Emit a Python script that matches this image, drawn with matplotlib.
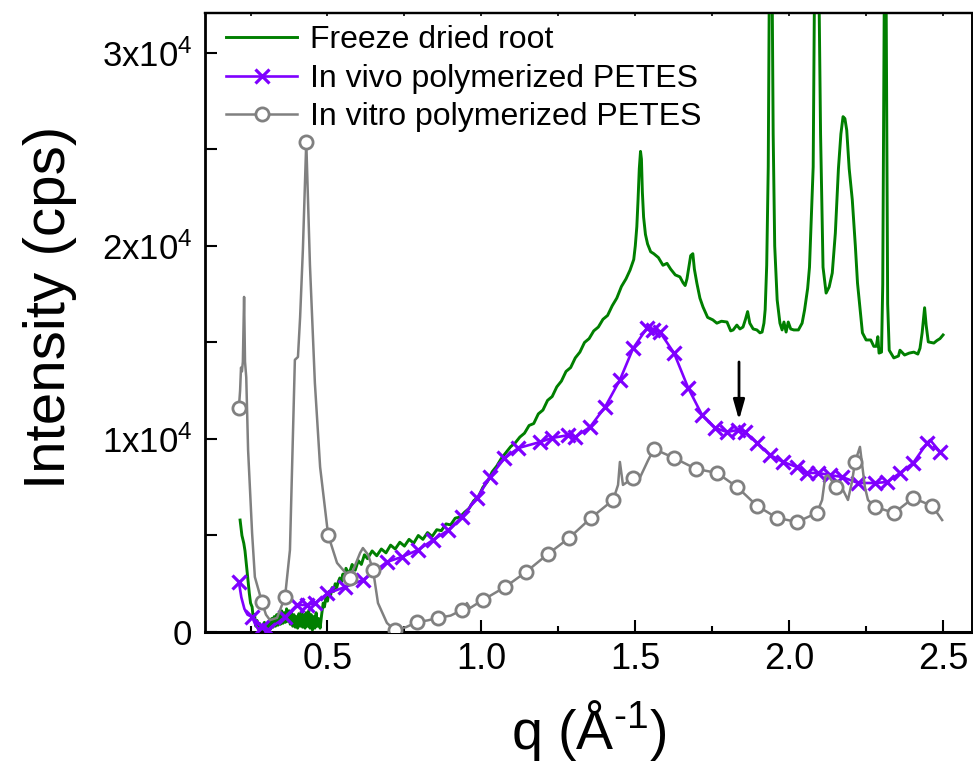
import numpy as np
import matplotlib
matplotlib.use("Agg")
import matplotlib.pyplot as plt
from matplotlib.ticker import FixedLocator, FixedFormatter, NullFormatter

plt.rcParams['font.family'] = ['Liberation Sans', 'DejaVu Sans']
plt.rcParams['mathtext.fontset'] = 'custom'
plt.rcParams['mathtext.rm'] = 'Liberation Sans'
plt.rcParams['mathtext.it'] = 'Liberation Sans:italic'
plt.rcParams['mathtext.bf'] = 'Liberation Sans:bold'

# ---------------- data ----------------
root_q = [0.216, 0.222, 0.228, 0.232, 0.237, 0.242, 0.246, 0.250, 0.255, 0.259, 0.263, 0.267,
          0.271, 0.275, 0.279, 0.283, 0.287, 0.291, 0.295, 0.299, 0.303, 0.307, 0.311, 0.315,
          0.319, 0.323, 0.327, 0.331, 0.335, 0.339, 0.343, 0.347, 0.351, 0.355, 0.359, 0.363,
          0.367, 0.371, 0.375, 0.379, 0.383, 0.387, 0.391, 0.395, 0.399, 0.403, 0.407, 0.411,
          0.415, 0.419, 0.423, 0.427, 0.431, 0.435, 0.439, 0.443, 0.447, 0.451, 0.455, 0.459,
          0.463, 0.467, 0.471, 0.476, 0.481, 0.486, 0.490, 0.495, 0.500, 0.505, 0.510, 0.515,
          0.520, 0.525, 0.530, 0.535, 0.540, 0.545, 0.550, 0.555, 0.560, 0.570, 0.580, 0.590,
          0.600, 0.610, 0.620, 0.630, 0.645, 0.660, 0.675, 0.690, 0.705, 0.720, 0.735, 0.750,
          0.765, 0.780, 0.795, 0.810, 0.825, 0.840, 0.855, 0.870, 0.885, 0.900, 0.915, 0.930,
          0.945, 0.960, 0.975, 0.990, 1.005, 1.020, 1.035, 1.050, 1.065, 1.080, 1.095, 1.110,
          1.125, 1.140, 1.155, 1.170, 1.185, 1.200, 1.215, 1.230, 1.245, 1.260, 1.275, 1.290,
          1.305, 1.320, 1.335, 1.350, 1.365, 1.380, 1.395, 1.410, 1.425, 1.440, 1.455, 1.470,
          1.483, 1.495, 1.500, 1.505, 1.509, 1.513, 1.517, 1.520, 1.523, 1.527, 1.533, 1.540,
          1.550, 1.560, 1.575, 1.590, 1.603, 1.615, 1.630, 1.645, 1.655, 1.662, 1.668, 1.675,
          1.680, 1.687, 1.692, 1.700, 1.710, 1.720, 1.735, 1.752, 1.765, 1.780, 1.798, 1.810,
          1.818, 1.830, 1.840, 1.850, 1.858, 1.865, 1.872, 1.883, 1.895, 1.905, 1.912, 1.918,
          1.922, 1.927, 1.932, 1.936, 1.940, 1.944, 1.948, 1.953, 1.961, 1.970, 1.977, 1.983,
          1.990, 1.997, 2.005, 2.015, 2.030, 2.042, 2.050, 2.060, 2.066, 2.073, 2.078, 2.083,
          2.090, 2.097, 2.102, 2.110, 2.120, 2.130, 2.140, 2.150, 2.160, 2.168, 2.175, 2.181,
          2.187, 2.195, 2.205, 2.215, 2.222, 2.232, 2.238, 2.250, 2.265, 2.275, 2.283, 2.288,
          2.292, 2.300, 2.304, 2.308, 2.312, 2.316, 2.320, 2.325, 2.340, 2.355, 2.360, 2.375,
          2.390, 2.405, 2.418, 2.425, 2.432, 2.440, 2.445, 2.452, 2.470, 2.480, 2.490, 2.500]
root_I = [5800, 5000, 4600, 4200, 3400, 2600, 2000, 1500, 1300, 700, 900, 300,
          600, 150, 450, 0, 350, 100, 500, 50, 400, 100, 600, 150,
          700, 250, 800, 300, 900, 350, 1000, 400, 1100, 450, 1000, 500,
          1200, 550, 1100, 400, 1000, 300, 900, 250, 800, 200, 950, 300,
          1000, 250, 900, 200, 1000, 300, 1100, 200, 900, 100, 800, 200,
          1000, 300, 700, 200, 900, 1500, 1300, 1800, 1600, 2100, 1900, 2300,
          2100, 2500, 2300, 2600, 2800, 2600, 3000, 2800, 3300, 3000, 3500, 3200,
          3700, 3500, 4000, 3800, 4200, 3950, 4300, 4100, 4500, 4300, 4650, 4450,
          4800, 4600, 5000, 4800, 5150, 4950, 5300, 5250, 5600, 5550, 5900, 5950,
          6200, 6400, 6800, 7000, 7500, 7800, 8300, 8600, 9000, 9300, 9600, 9800,
          10100, 10300, 10700, 10800, 11300, 11500, 12000, 12200, 12700, 13000, 13500, 13700,
          14200, 14500, 15000, 15200, 15600, 15800, 16200, 16400, 16900, 17300, 17900, 18300,
          18750, 19300, 20000, 21000, 22400, 24000, 24900, 24500, 22800, 21500, 20600, 20100,
          19700, 19600, 19400, 19000, 19100, 18800, 18500, 18400, 18100, 17950, 18300, 19000,
          19500, 19600, 18800, 18080, 17300, 16840, 16300, 16170, 16000, 16100, 16060, 15600,
          15650, 15900, 15700, 15800, 16200, 16600, 16000, 15700, 15650, 15500, 15540, 16000,
          16700, 19000, 24100, 35000, 45000, 35000, 25800, 20000, 17200, 16000, 15650, 16060,
          15540, 16060, 15700, 15650, 15650, 16000, 16680, 17800, 18900, 22000, 24100, 35000,
          42000, 33000, 25800, 18900, 17560, 17880, 18600, 20670, 24000, 25800, 26700, 26600,
          26000, 24000, 22400, 20000, 18080, 16500, 15500, 15130, 15130, 14800, 14800, 15300,
          14450, 14500, 18000, 30000, 42000, 30000, 17000, 14600, 14200, 14300, 14600, 14350,
          14450, 14500, 14400, 14700, 15500, 16800, 15900, 15030, 14970, 15100, 15200, 15390]

vivo_q = [0.212, 0.220, 0.230, 0.240, 0.255, 0.265, 0.275, 0.287, 0.300, 0.307, 0.320, 0.340,
          0.362, 0.401, 0.433, 0.460, 0.500, 0.557, 0.616, 0.693, 0.742, 0.794, 0.843, 0.893,
          0.937, 0.986, 1.028, 1.075, 1.120, 1.190, 1.229, 1.282, 1.304, 1.353, 1.402, 1.450,
          1.493, 1.538, 1.558, 1.580, 1.626, 1.672, 1.717, 1.760, 1.798, 1.834, 1.857, 1.896,
          1.938, 1.980, 2.025, 2.058, 2.094, 2.133, 2.172, 2.224, 2.279, 2.318, 2.360, 2.403,
          2.448, 2.458, 2.490]
vivo_I = [2600, 1800, 1200, 900, 780, 400, 150, 260, 0, 100, 300, 500,
          780, 1400, 1400, 1500, 2000, 2330, 2700, 3630, 3890, 4250, 4770, 5280,
          5960, 6940, 8030, 9000, 9530, 9840, 10050, 10200, 10100, 10620, 11660, 13060,
          14700, 15750, 15650, 15540, 14450, 12640, 11240, 10570, 10360, 10470, 10360, 9790,
          9170, 8810, 8550, 8240, 8240, 8130, 8030, 7720, 7720, 7770, 8240, 8760,
          9790, 9950, 9330]
vivo_mark_q = [0.212, 0.255, 0.287, 0.307, 0.362, 0.401, 0.433, 0.460, 0.500, 0.557, 0.616,
               0.693, 0.742, 0.794, 0.843, 0.893, 0.937, 0.986, 1.028, 1.075, 1.120, 1.190,
               1.229, 1.282, 1.304, 1.353, 1.402, 1.450, 1.493, 1.538, 1.558, 1.580, 1.626,
               1.672, 1.717, 1.760, 1.798, 1.834, 1.857, 1.896, 1.938, 1.980, 2.025, 2.058,
               2.094, 2.133, 2.172, 2.224, 2.279, 2.318, 2.360, 2.403, 2.448, 2.490]

vitro_q = [0.212, 0.216, 0.219, 0.222, 0.225, 0.229, 0.232, 0.236, 0.242, 0.255, 0.264, 0.287,
           0.300, 0.313, 0.336, 0.362, 0.378, 0.394, 0.404, 0.411, 0.420, 0.431, 0.443, 0.459,
           0.476, 0.502, 0.531, 0.573, 0.606, 0.615, 0.632, 0.648, 0.664, 0.693, 0.719, 0.755,
           0.791, 0.825, 0.859, 0.900, 0.937, 0.953, 0.963, 1.005, 1.077, 1.145, 1.216, 1.285,
           1.356, 1.428, 1.444, 1.450, 1.460, 1.493, 1.516, 1.542, 1.561, 1.626, 1.697, 1.766,
           1.831, 1.896, 1.961, 2.026, 2.090, 2.107, 2.117, 2.126, 2.152, 2.175, 2.191, 2.204,
           2.214, 2.230, 2.246, 2.256, 2.279, 2.341, 2.403, 2.465, 2.497]
vitro_I = [11600, 12500, 13700, 13500, 14000, 17360, 14000, 13200, 9430, 5130, 2850, 1550,
           900, 620, 730, 1810, 4250, 14100, 14250, 16300, 19800, 25400, 19000, 12900,
           8550, 5030, 3580, 2800, 4100, 4350, 4000, 3210, 1500, 470, 100, 250,
           520, 600, 730, 850, 1140, 1500, 1240, 1660, 2330, 3110, 4040, 4870,
           5910, 6840, 7620, 8810, 7620, 7980, 8030, 8910, 9480, 9020, 8450, 8240,
           7510, 6530, 5910, 5700, 6170, 6840, 8030, 8130, 7510, 7360, 6840, 7770,
           8810, 9590, 7510, 6840, 6480, 6170, 6940, 6530, 5800]
vitro_mark_q = [0.212, 0.287, 0.362, 0.431, 0.502, 0.573, 0.648, 0.719, 0.791, 0.859, 0.937,
                1.005, 1.077, 1.145, 1.216, 1.285, 1.356, 1.428, 1.493, 1.561, 1.626, 1.697,
                1.766, 1.831, 1.896, 1.961, 2.026, 2.090, 2.152, 2.214, 2.279, 2.341, 2.403,
                2.465]

labels = ["Freeze dried root", "In vivo polymerized PETES", "In vitro polymerized PETES"]
colors = ["#007f00", "#7f00ff", "#808080"]
arrow_q = 1.837
arrow_from, arrow_to = 13990, 10980

xticks_major = [0.5, 1.0, 1.5, 2.0, 2.5]
xtick_labels = ["0.5", "1.0", "1.5", "2.0", "2.5"]
yticks_major = [0, 10000, 20000, 30000]
ytick_labels = ["0", "1x10$^4$", "2x10$^4$", "3x10$^4$"]

# ---------------- figure ----------------
fig = plt.figure(figsize=(9.73, 7.65), dpi=100)
W, H = 973, 765
ax = fig.add_axes([205 / W, 1 - 632 / H, (972 - 205) / W, (632 - 13) / H])

ax.plot(root_q, root_I, color=colors[0], lw=2.1, label=labels[0], zorder=2)

vivo_idx = [vivo_q.index(q) for q in vivo_mark_q]
ax.plot(vivo_q, vivo_I, color=colors[1], lw=1.9, marker='x', ms=10.5, mew=2.3,
        markevery=vivo_idx, label=labels[1], zorder=3)

vitro_idx = [vitro_q.index(q) for q in vitro_mark_q]
ax.plot(vitro_q, vitro_I, color=colors[2], lw=1.8, marker='o', ms=9.5, mew=2.0,
        mfc='white', mec=colors[2], markevery=vitro_idx, label=labels[2], zorder=4)

ax.annotate('', xy=(arrow_q, arrow_to), xytext=(arrow_q, arrow_from),
            arrowprops=dict(arrowstyle='-|>,head_length=0.6,head_width=0.17',
                            color='black', lw=2.0, mutation_scale=20,
                            shrinkA=0, shrinkB=0), zorder=5)

ax.set_xlim(0.102, 2.594)
ax.set_ylim(0, 32070)

ax.xaxis.set_major_locator(FixedLocator(xticks_major))
ax.xaxis.set_major_formatter(FixedFormatter(xtick_labels))
ax.xaxis.set_minor_locator(FixedLocator([0.25, 0.75, 1.25, 1.75, 2.25]))
ax.yaxis.set_major_locator(FixedLocator(yticks_major))
ax.yaxis.set_major_formatter(FixedFormatter(ytick_labels))
ax.yaxis.set_minor_locator(FixedLocator([5000, 15000, 25000]))

ax.tick_params(axis='x', which='major', direction='in', length=8.6, width=1.5,
               labelsize=26, pad=7, top=False)
ax.tick_params(axis='x', which='minor', direction='in', length=4.3, width=1.5, top=False)
ax.tick_params(axis='y', which='both', direction='in', length=8.6, width=1.5,
               labelsize=25, pad=9, right=False)

sec = ax.secondary_xaxis('top')
sec.xaxis.set_major_locator(FixedLocator([0.25, 0.5, 0.75, 1.0, 1.25, 1.5, 1.75, 2.0, 2.25, 2.5]))
sec.tick_params(direction='in', length=2.5, width=1.2, labeltop=False)
sec.xaxis.set_major_formatter(NullFormatter())
sec.spines['top'].set_linewidth(1.6)

for side, lw in [('left', 2.0), ('bottom', 2.2), ('top', 1.6), ('right', 1.4)]:
    ax.spines[side].set_linewidth(lw)

ax.set_xlabel(r"q (Å$^{\text{-}1}$)", fontsize=40, labelpad=15)
ax.set_ylabel("Intensity (cps)", fontsize=42, labelpad=18)
ax.yaxis.label.set_y(0.525)

ax.legend(loc='upper left', bbox_to_anchor=(0.028, 0.98), frameon=False, fontsize=23,
          handlelength=2.2, handletextpad=0.4, labelspacing=0.26, borderpad=0,
          borderaxespad=0)

fig.savefig("out.png", dpi=100)
